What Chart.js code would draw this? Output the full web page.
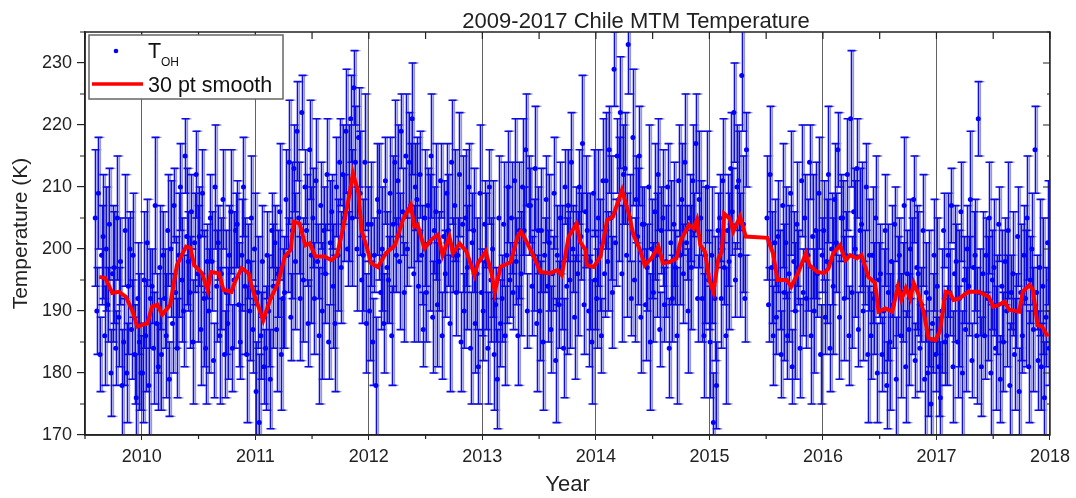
<!DOCTYPE html>
<html>
<head>
<meta charset="utf-8">
<script src="https://cdn.jsdelivr.net/npm/chart.js@4.4.0/dist/chart.umd.min.js"></script>
<style>
  body { margin: 0; background: #fff; }
  #wrap { width: 1076px; height: 498px; }
</style>
</head>
<body>
<div id="wrap"><canvas id="chart"></canvas></div>
<script>
// observing months (no data in May-June 2015)
const months = [
  '2009-08','2009-09','2009-10','2009-11','2009-12',
  '2010-01','2010-02','2010-03','2010-04','2010-05','2010-06','2010-07','2010-08','2010-09','2010-10','2010-11','2010-12',
  '2011-01','2011-02','2011-03','2011-04','2011-05','2011-06','2011-07','2011-08','2011-09','2011-10','2011-11','2011-12',
  '2012-01','2012-02','2012-03','2012-04','2012-05','2012-06','2012-07','2012-08','2012-09','2012-10','2012-11','2012-12',
  '2013-01','2013-02','2013-03','2013-04','2013-05','2013-06','2013-07','2013-08','2013-09','2013-10','2013-11','2013-12',
  '2014-01','2014-02','2014-03','2014-04','2014-05','2014-06','2014-07','2014-08','2014-09','2014-10','2014-11','2014-12',
  '2015-01','2015-02','2015-03','2015-04','2015-07','2015-08','2015-09','2015-10','2015-11','2015-12',
  '2016-01','2016-02','2016-03','2016-04','2016-05','2016-06','2016-07','2016-08','2016-09','2016-10','2016-11','2016-12',
  '2017-01','2017-02','2017-03','2017-04','2017-05','2017-06','2017-07','2017-08','2017-09','2017-10','2017-11','2017-12'
]

// nightly T_OH (K), per month
const tOH = [
  [205,190,209,183,199,202],[186,200,191,204,180,196],[197,184,205,189,198,178],[185,203,180,194,200,187],[199,183,176,192,185,180],
  [180,195,186,201,178,192],[194,184,207,188,181,197],[183,199,192,186,203,179],[200,188,207,193,184,199],[210,195,190,215,202,198],
  [193,206,185,201,212,196],[202,187,209,192,184,198],[190,205,198,182,210,194],[201,186,196,208,183,193],[188,199,206,184,195,203],
  [204,191,185,199,210,194],[183,198,190,205,187,200],
  [177,193,172,186,198,181],[184,199,190,179,203,194],[201,187,196,206,183,192],[193,208,199,214,189,203],[213,198,219,205,192,222],
  [195,210,203,188,216,199],[205,192,211,198,186,207],[190,203,196,212,185,201],[206,194,188,210,199,214],[197,212,205,219,200,209],
  [221,205,226,214,200,218],[209,195,199,214,188,204],
  [190,204,185,199,178,208],[206,193,200,188,211,197],[195,209,186,204,214,199],[211,198,219,206,193,215],[200,214,207,221,196,210],
  [208,194,212,199,187,205],[193,207,201,215,189,203],[206,191,198,211,186,202],[196,209,203,188,214,199],[207,193,199,212,185,204],
  [190,205,197,210,184,201],[203,188,196,181,209,193],
  [190,204,198,184,210,195],[200,183,191,179,205,188],[192,204,186,199,210,195],[205,193,211,198,186,203],[196,210,203,216,190,207],
  [207,194,199,213,188,203],[190,203,185,199,208,194],[201,187,196,209,182,199],[191,205,197,184,210,194],[207,195,214,200,189,204],
  [196,210,202,217,191,206],[203,190,198,185,209,195],
  [192,205,199,186,211,196],[211,198,216,205,193,229],[201,215,208,222,196,212],[213,199,233,205,192,218],[195,208,202,215,189,204],
  [204,191,197,210,185,200],[193,206,199,212,187,203],[205,191,198,210,184,201],[192,204,197,186,211,199],[208,196,214,201,190,205],
  [197,211,203,217,192,208],[205,192,186,199,210,195],
  [185,199,172,192,178,203],[205,192,211,197,186,203],[198,213,206,222,195,210],[211,199,228,204,192,216],
  [205,191,212,197,186,201],[189,202,195,183,207,193],[201,186,196,209,181,198],[190,204,197,184,211,193],[205,192,199,214,186,202],
  [190,203,196,209,183,199],
  [203,189,198,212,184,200],[194,208,201,216,189,205],[205,192,199,212,186,221],[193,206,200,213,187,203],[204,190,197,210,183,199],
  [186,199,192,205,180,195],[196,183,190,203,178,193],[185,198,191,204,179,194],[199,186,193,207,181,196],[187,200,194,208,182,197],
  [196,184,191,203,179,193],[180,192,175,188,199,183],
  [194,181,176,190,203,185],[186,199,193,207,181,196],[198,185,192,206,180,195],[187,200,194,208,182,197],[199,186,221,193,181,196],
  [186,199,192,205,180,195],[197,184,191,204,179,194],[185,198,190,203,178,193],[196,183,190,202,177,193],[186,199,192,205,181,195],
  [200,187,216,193,182,197],[181,194,176,189,201,184]
]

// 1-sigma error (K), same layout as tOH
const tOHerr = [
  [11,7,9,6,8,10],[8,10,6,9,7,11],[9,6,10,8,7,9],[7,9,8,11,6,8],[10,8,7,9,11,6],
  [8,11,9,7,10,8],[6,9,11,8,7,10],[9,7,8,10,9,6],[11,8,6,9,8,10],[7,10,9,6,11,8],
  [9,6,10,8,7,11],[8,9,7,11,9,6],[10,7,8,6,10,9],[6,11,9,8,7,10],[9,8,10,7,11,6],
  [7,10,6,9,8,11],[11,6,8,10,7,9],
  [8,9,11,7,9,6],[10,7,9,8,6,10],[6,10,7,11,9,8],[9,8,6,10,7,11],[7,11,8,9,10,6],
  [10,6,9,7,8,11],[8,9,10,6,11,7],[11,7,8,9,6,10],[6,10,11,8,9,7],[9,8,7,10,6,11],
  [7,11,6,9,10,8],[10,7,9,11,8,6],
  [8,10,7,6,11,9],[11,6,10,8,7,9],[7,9,8,11,10,6],[9,11,6,7,8,10],[6,8,10,9,11,7],
  [10,9,7,8,6,11],[8,6,11,10,9,7],[11,10,8,6,7,9],[7,8,9,11,10,6],[9,7,6,10,8,11],
  [6,11,10,7,9,8],[10,8,9,6,11,7],
  [8,7,11,9,6,10],[11,9,6,8,10,7],[7,10,8,11,9,6],[9,6,10,7,8,11],[10,11,7,9,6,8],
  [6,8,9,10,11,7],[8,10,11,6,7,9],[11,7,6,9,10,8],[7,9,10,8,6,11],[9,11,8,7,10,6],
  [10,6,7,11,8,9],[6,9,11,10,7,8],
  [8,11,9,6,10,7],[11,8,7,10,9,6],[7,6,10,9,11,8],[9,10,8,7,6,11],[10,7,11,8,9,6],
  [6,9,7,10,11,8],[8,11,10,9,6,7],[11,6,9,7,8,10],[7,10,6,11,9,8],[9,8,11,6,10,7],
  [10,9,6,8,7,11],[6,7,10,11,9,8],
  [9,11,8,10,7,6],[7,8,10,6,11,9],[11,9,7,8,6,10],[8,10,9,11,7,6],
  [10,6,11,9,8,7],[6,9,8,7,10,11],[9,7,11,10,6,8],[11,10,6,8,9,7],[7,8,9,6,11,10],
  [10,11,7,9,8,6],
  [8,6,10,11,7,9],[11,9,8,6,10,7],[6,10,7,9,8,11],[9,7,11,8,6,10],[10,8,6,7,11,9],
  [7,11,9,10,8,6],[8,6,10,9,7,11],[11,9,7,6,10,8],[6,10,8,11,9,7],[9,8,11,7,6,10],
  [10,7,6,9,11,8],[7,11,10,8,9,6],
  [11,8,9,10,6,7],[8,10,7,6,9,11],[6,9,11,8,10,7],[10,7,8,11,6,9],[9,11,6,7,8,10],
  [7,6,10,9,11,8],[11,10,8,6,7,9],[8,7,9,11,10,6],[10,9,6,8,7,11],[6,8,11,10,9,7],
  [9,10,7,6,8,11],[7,11,9,8,10,6]
]

// 30 pt smooth
const smoothYear = [
  2009.625,2009.68,2009.74,2009.80,2009.86,2009.92,2009.96,2010.05,2010.09,2010.14,2010.18,2010.25,2010.31,2010.39,2010.43,2010.46,
  2010.53,2010.58,2010.61,2010.68,2010.72,2010.79,2010.82,2010.88,2010.94,2010.985,2011.07,2011.13,2011.20,2011.26,2011.31,2011.34,
  2011.39,2011.44,2011.48,2011.53,2011.61,2011.67,2011.72,2011.77,2011.82,2011.86,2011.91,2011.935,2011.98,2012.02,2012.08,2012.15,
  2012.23,2012.30,2012.37,2012.40,2012.43,2012.49,2012.55,2012.61,2012.65,2012.71,2012.74,2012.80,2012.86,2012.93,2012.96,2013.03,
  2013.08,2013.11,2013.16,2013.25,2013.31,2013.34,2013.38,2013.44,2013.51,2013.60,2013.66,2013.70,2013.76,2013.83,2013.86,2013.91,
  2013.92,2013.98,2014.04,2014.10,2014.15,2014.23,2014.29,2014.33,2014.39,2014.43,2014.49,2014.55,2014.59,2014.65,2014.71,2014.75,
  2014.82,2014.86,2014.89,2014.92,2014.96,2015.00,2015.035,2015.08,2015.11,2015.13,2015.18,2015.21,2015.27,2015.32,2015.51,2015.56,
  2015.60,2015.68,2015.72,2015.78,2015.85,2015.88,2015.95,2016.01,2016.05,2016.09,2016.15,2016.20,2016.24,2016.30,2016.34,2016.40,
  2016.46,2016.49,2016.55,2016.61,2016.66,2016.69,2016.73,2016.77,2016.80,2016.85,2016.89,2016.93,2016.99,2017.03,2017.08,2017.12,
  2017.15,2017.20,2017.28,2017.37,2017.46,2017.50,2017.55,2017.60,2017.64,2017.73,2017.76,2017.82,2017.85,2017.89,2017.93,2017.98
]
const smoothTemp = [
  195.5,195.3,192.9,193.1,192.3,189.9,187.5,188.0,190.7,191.0,189.4,191.0,197.4,200.4,200.2,197.4,
  196.1,193.4,196.3,196.1,193.4,193.1,194.7,196.9,196.1,192.9,188.5,191.8,194.5,198.8,199.8,204.4,
  204.1,200.6,200.9,198.8,198.8,198.2,199.0,203.1,207.9,212.2,209.0,203.1,200.4,197.7,197.1,199.3,
  200.6,204.7,207.1,203.6,203.9,200.1,201.5,202.3,199.0,202.0,199.3,200.9,199.6,195.8,197.7,199.6,
  196.1,193.1,197.1,197.9,202.0,202.8,201.5,199.3,196.3,196.1,196.6,195.8,202.0,204.1,201.2,199.8,
  197.4,197.1,198.8,204.7,205.2,209.5,205.7,202.3,199.8,197.4,198.5,200.4,197.7,197.9,198.5,201.5,
  203.9,203.3,204.7,200.6,199.6,195.0,193.1,198.5,199.6,205.7,204.9,202.8,205.2,202.0,201.8,199.3,
  195.0,195.0,193.9,196.1,199.3,197.4,196.3,196.1,196.9,199.3,200.6,198.2,199.0,198.5,199.0,195.5,
  194.5,189.9,190.4,189.9,193.9,191.8,193.7,192.0,194.5,192.3,189.6,185.6,185.3,186.7,193.1,192.9,
  191.8,192.0,193.1,193.1,192.3,190.7,191.0,191.5,190.2,189.9,193.1,194.2,193.4,187.7,187.5,185.9
]

const xTicks = [2010, 2011, 2012, 2013, 2014, 2015, 2016, 2017, 2018]
const xMinorTicks = [2009.5, 2010.5, 2011.5, 2012.5, 2013.5, 2014.5, 2015.5, 2016.5, 2017.5]
const yTicks = [170, 180, 190, 200, 210, 220, 230]
const yMinorTicks = [175, 185, 195, 205, 215, 225, 235]

const FONT = "'Liberation Sans', Arial, sans-serif"

// spread each month's nights across the month
const points = []
months.forEach((m, mi) => {
  const [yr, mo] = m.split('-').map(Number)
  const vals = tOH[mi]
  vals.forEach((t, i) => {
    const x = yr + (mo - 1 + (i + 0.5) / vals.length) / 12
    points.push({ x: x, y: t, err: tOHerr[mi][i] })
  })
})
const smoothPts = smoothYear.map((x, i) => ({ x: x, y: smoothTemp[i] }))

const errorBars = {
  id: 'errorBars',
  beforeDatasetsDraw(chart) {
    const { ctx, chartArea: a, scales: { x, y } } = chart
    ctx.save()
    ctx.beginPath()
    ctx.rect(a.left, a.top, a.right - a.left, a.bottom - a.top)
    ctx.clip()
    const pass = (color, dx, w) => {
      ctx.strokeStyle = color
      ctx.lineWidth = w
      ctx.beginPath()
      points.forEach(p => {
        const px = Math.round(x.getPixelForValue(p.x)) + 0.5 + dx
        const y1 = y.getPixelForValue(p.y + p.err)
        const y2 = y.getPixelForValue(p.y - p.err)
        ctx.moveTo(px, y1); ctx.lineTo(px, y2)
        ctx.moveTo(px - 4, y1); ctx.lineTo(px + 4, y1)
        ctx.moveTo(px - 4, y2); ctx.lineTo(px + 4, y2)
      })
      ctx.stroke()
    }
    pass('rgba(90,90,130,0.6)', 2, 1.3)
    pass('rgba(0,0,235,0.95)', 0, 1.6)
    ctx.restore()
  }
}

const frame = {
  id: 'frame',
  afterDraw(chart) {
    const { ctx, chartArea: a, scales: { x, y } } = chart
    ctx.save()
    ctx.strokeStyle = '#222'
    ctx.lineWidth = 1.5
    ctx.strokeRect(a.left, a.top, a.right - a.left, a.bottom - a.top)

    ctx.lineWidth = 1.2
    ctx.beginPath()
    xMinorTicks.forEach(v => {
      const px = x.getPixelForValue(v)
      ctx.moveTo(px, a.bottom); ctx.lineTo(px, a.bottom + 4)
    })
    xTicks.concat(xMinorTicks).forEach(v => {
      const px = x.getPixelForValue(v)
      ctx.moveTo(px, a.top); ctx.lineTo(px, a.top + 7)
    })
    yMinorTicks.forEach(v => {
      const py = y.getPixelForValue(v)
      ctx.moveTo(a.left, py); ctx.lineTo(a.left - 5, py)
      ctx.moveTo(a.right, py); ctx.lineTo(a.right - 3, py)
    })
    yTicks.forEach(v => {
      const py = y.getPixelForValue(v)
      ctx.moveTo(a.right, py); ctx.lineTo(a.right - 7, py)
    })
    ctx.stroke()

    // title
    ctx.fillStyle = '#222'
    ctx.font = '22px ' + FONT
    ctx.textAlign = 'center'
    ctx.textBaseline = 'alphabetic'
    ctx.fillText('2009-2017 Chile MTM Temperature', 636, 28)

    // legend
    ctx.fillStyle = '#fff'
    ctx.fillRect(89, 35, 194, 64)
    ctx.strokeStyle = '#666'
    ctx.lineWidth = 1.5
    ctx.strokeRect(89, 35, 194, 64)
    ctx.fillStyle = '#0000ff'
    ctx.beginPath()
    ctx.arc(116, 51, 2.3, 0, Math.PI * 2)
    ctx.fill()
    ctx.strokeStyle = '#ff0000'
    ctx.lineWidth = 3.5
    ctx.beginPath()
    ctx.moveTo(92, 84); ctx.lineTo(143, 84)
    ctx.stroke()
    ctx.fillStyle = '#111'
    ctx.textAlign = 'left'
    ctx.font = '21.5px ' + FONT
    ctx.fillText('T', 148, 58)
    ctx.font = '12px ' + FONT
    ctx.fillText('OH', 161, 66)
    ctx.font = '21.5px ' + FONT
    ctx.fillText('30 pt smooth', 148, 92)
    ctx.restore()
  }
}

new Chart(document.getElementById('chart'), {
  type: 'scatter',
  data: {
    datasets: [
      {
        label: 'TOH',
        data: points,
        backgroundColor: '#0000ff',
        borderWidth: 0,
        pointRadius: 2.5,
        order: 1
      },
      {
        type: 'line',
        label: '30 pt smooth',
        data: smoothPts,
        borderColor: '#ff0000',
        borderWidth: 4,
        pointRadius: 0,
        tension: 0,
        fill: false,
        order: 0
      }
    ]
  },
  options: {
    responsive: true,
    maintainAspectRatio: false,
    animation: false,
    layout: { padding: { top: 32, right: 22, left: 0, bottom: 0 } },
    plugins: {
      legend: { display: false },
      tooltip: { enabled: false },
      title: { display: false }
    },
    scales: {
      x: {
        type: 'linear',
        min: 2009.5,
        max: 2018,
        afterBuildTicks: s => { s.ticks = xTicks.map(v => ({ value: v })) },
        afterFit: s => { s.height = 63 },
        ticks: {
          color: '#222',
          font: { size: 18, family: FONT },
          padding: 6,
          callback: v => String(v)
        },
        grid: {
          color: 'rgba(70,70,70,0.85)',
          lineWidth: 1,
          tickLength: 5,
          tickColor: '#222'
        },
        border: { display: true, color: '#222', width: 1.5 },
        title: {
          display: true,
          text: 'Year',
          color: '#222',
          font: { size: 22, family: FONT },
          padding: { top: 0, bottom: 0 }
        }
      },
      y: {
        min: 170,
        max: 235,
        afterBuildTicks: s => { s.ticks = yTicks.map(v => ({ value: v })) },
        afterFit: s => { s.width = 85 },
        ticks: {
          color: '#222',
          font: { size: 18, family: FONT },
          padding: 5
        },
        grid: {
          drawOnChartArea: false,
          tickLength: 8,
          tickColor: '#222',
          lineWidth: 1.2
        },
        border: { display: true, color: '#222', width: 1.5 },
        title: {
          display: true,
          text: 'Temperature (K)',
          color: '#222',
          font: { size: 21, family: FONT },
          padding: { top: 9, bottom: 0 }
        }
      }
    }
  },
  plugins: [errorBars, frame]
})
</script>
</body>
</html>
